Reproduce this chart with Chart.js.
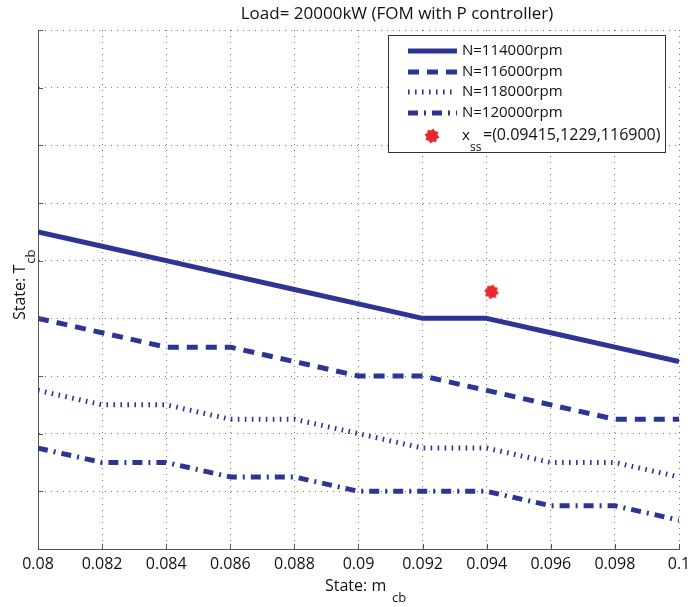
<!DOCTYPE html>
<html>
<head>
<meta charset="utf-8">
<script src="https://cdn.jsdelivr.net/npm/chart.js@4.4.0/dist/chart.umd.min.js"></script>
<style>
  html, body { margin: 0; background: #fff; }
</style>
</head>
<body>
<canvas id="chart" width="700" height="607"></canvas>
<script>
"use strict";

// x values (state m_cb) and the four speed curves (state T_cb, grid units)
const mcb = [0.08, 0.082, 0.084, 0.086, 0.088, 0.09, 0.092, 0.094, 0.096, 0.098, 0.1];
const n114000 = [5.5, 5.25, 5, 4.75, 4.5, 4.25, 4, 4, 3.75, 3.5, 3.25];
const n116000 = [4, 3.75, 3.5, 3.5, 3.25, 3, 3, 2.75, 2.5, 2.25, 2.25];
const n118000 = [2.75, 2.5, 2.5, 2.25, 2.25, 2, 1.75, 1.75, 1.5, 1.5, 1.25];
const n120000 = [1.75, 1.5, 1.5, 1.25, 1.25, 1, 1, 1, 0.75, 0.75, 0.5];
const seriesLabels = ["N=114000rpm", "N=116000rpm", "N=118000rpm", "N=120000rpm"];
const xssPoint = [0.09415];
const xssValue = [4.46];
const xssText = "=(0.09415,1229,116900)";

const blue = "#2e3494";
const red = "#e8262b";
const font = '"Open Sans", "Liberation Sans", sans-serif';

// red blob marker like matlab's filled star
const starImg = document.createElement("canvas");
starImg.width = 16;
starImg.height = 16;
(function () {
  const c = starImg.getContext("2d");
  c.fillStyle = red;
  c.beginPath();
  for (let i = 0; i < 16; i++) {
    const r = i % 2 ? 5.6 : 7.6;
    const a = (i * Math.PI) / 8 + Math.PI / 16;
    const px = 8 + r * Math.cos(a);
    const py = 8 + r * Math.sin(a);
    if (i === 0) c.moveTo(px, py);
    else c.lineTo(px, py);
  }
  c.closePath();
  c.fill();
})();

const dashes = [[], [11, 8], [1.6, 5.4], [10, 6, 2, 6]];
const curves = [n114000, n116000, n118000, n120000];

const datasets = curves.map((vals, k) => ({
  label: seriesLabels[k],
  data: mcb.map((x, i) => ({ x: x, y: vals[i] })),
  borderColor: blue,
  borderWidth: 5,
  borderDash: dashes[k],
  borderCapStyle: "butt",
  borderJoinStyle: "round",
  pointRadius: 0,
  fill: false,
  tension: 0,
}));
datasets.push({
  label: "xss",
  data: xssPoint.map((x, i) => ({ x: x, y: xssValue[i] })),
  showLine: false,
  pointStyle: starImg,
  pointRadius: 8,
});

// title, axis labels with subscripts, inward ticks and the legend box
const decorations = {
  id: "decorations",
  afterDraw(chart) {
    const ctx = chart.ctx;
    const area = chart.chartArea;
    const xs = chart.scales.x;
    const ys = chart.scales.y;
    ctx.save();

    // inward tick marks
    ctx.strokeStyle = "#555";
    ctx.lineWidth = 1;
    ctx.beginPath();
    xs.ticks.forEach((t) => {
      const px = Math.round(xs.getPixelForValue(t.value)) + 0.5;
      ctx.moveTo(px, area.bottom);
      ctx.lineTo(px, area.bottom - 5);
    });
    ys.ticks.forEach((t) => {
      const py = Math.round(ys.getPixelForValue(t.value)) + 0.5;
      ctx.moveTo(area.left, py);
      ctx.lineTo(area.left + 5, py);
    });
    ctx.stroke();

    ctx.fillStyle = "#111";
    ctx.textBaseline = "alphabetic";

    // title
    ctx.font = "17px " + font;
    ctx.textAlign = "center";
    ctx.fillText("Load= 20000kW (FOM with P controller)", 397, 19);

    // x label
    ctx.textAlign = "left";
    ctx.font = "16px " + font;
    const xl = "State: m";
    ctx.fillText(xl, 325, 591);
    ctx.font = "13px " + font;
    ctx.fillText("cb", 392, 602);

    // y label (rotated)
    ctx.save();
    ctx.translate(25, 320);
    ctx.rotate(-Math.PI / 2);
    ctx.font = "16px " + font;
    const yl = "State: T";
    const yw = ctx.measureText(yl).width;
    ctx.fillText(yl, 0, 0);
    ctx.font = "13px " + font;
    ctx.fillText("cb", yw + 1, 10);
    ctx.restore();

    // legend box
    const bx = 388, by = 35, bw = 277, bh = 117;
    ctx.fillStyle = "#fff";
    ctx.fillRect(bx, by, bw, bh);
    ctx.strokeStyle = "#333";
    ctx.lineWidth = 1;
    ctx.strokeRect(bx + 0.5, by + 0.5, bw, bh);

    const rows = [51, 72, 92, 113];
    ctx.font = "15px " + font;
    ctx.textBaseline = "middle";
    seriesLabels.forEach((lab, k) => {
      ctx.save();
      ctx.strokeStyle = blue;
      ctx.lineWidth = 5;
      ctx.lineCap = "butt";
      ctx.setLineDash(dashes[k]);
      ctx.beginPath();
      ctx.moveTo(408, rows[k]);
      ctx.lineTo(457, rows[k]);
      ctx.stroke();
      ctx.restore();
      ctx.fillStyle = "#111";
      ctx.fillText(lab, 462, rows[k]);
    });

    ctx.drawImage(starImg, 432 - 8, 136 - 8);
    ctx.textBaseline = "alphabetic";
    ctx.fillStyle = "#111";
    ctx.font = "15px " + font;
    ctx.fillText("x", 462, 140);
    ctx.font = "12px " + font;
    ctx.fillText("ss", 470, 151);
    ctx.font = "16px " + font;
    ctx.fillText(xssText, 483, 140);

    ctx.restore();
  },
};

Chart.defaults.font.family = font;
new Chart(document.getElementById("chart"), {
  type: "line",
  data: { datasets: datasets },
  options: {
    responsive: false,
    animation: false,
    devicePixelRatio: 1,
    layout: { padding: { top: 30, right: 21, left: 0, bottom: 0 } },
    plugins: {
      legend: { display: false },
      title: { display: false },
      tooltip: { enabled: false },
    },
    scales: {
      x: {
        type: "linear",
        min: 0.08,
        max: 0.1,
        ticks: {
          stepSize: 0.002,
          color: "#111",
          font: { size: 16 },
          padding: 6,
          maxRotation: 0,
          callback: (v) => String(+v.toFixed(3)),
        },
        grid: { color: "rgba(60,60,60,0.7)", lineWidth: 1, drawTicks: false },
        border: { display: true, color: "#555", width: 1, dash: [1, 5] },
        afterFit: (s) => { s.height = 58; },
      },
      y: {
        min: 0,
        max: 9,
        ticks: { stepSize: 1, display: false },
        grid: { color: "rgba(60,60,60,0.7)", lineWidth: 1, drawTicks: false },
        border: { display: true, color: "#555", width: 1, dash: [1, 5] },
        afterFit: (s) => { s.width = 38; },
      },
    },
  },
  plugins: [decorations],
});
</script>
</body>
</html>
